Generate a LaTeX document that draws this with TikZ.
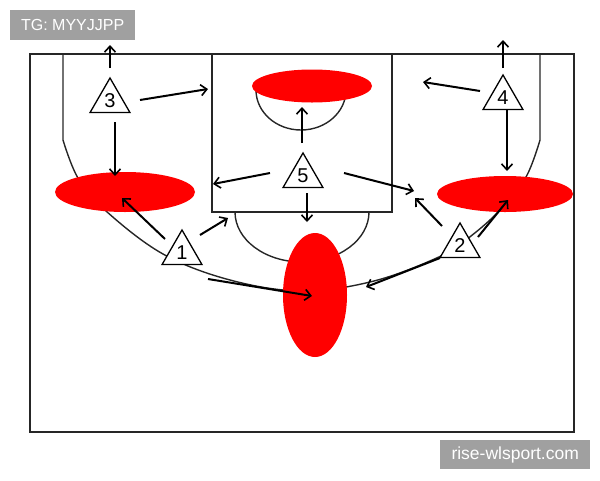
\documentclass[tikz,border=0pt]{standalone}
\usepackage{fontspec}
\setmainfont{Liberation Sans}
\usetikzlibrary{shapes.geometric,arrows.meta}
\definecolor{wmgray}{HTML}{A0A0A0}
\begin{document}
\begin{tikzpicture}[x=1pt,y=-1pt,
  court/.style={line width=1.4pt, black!85},
  mv/.style={line width=2pt, black, -{Straight Barb[length=6pt,width=11pt,line width=1.6pt]}},
  player/.style={regular polygon, regular polygon sides=3, draw, line width=1.3pt, fill=white, minimum size=46pt, inner sep=0pt, font=\fontsize{20}{24}\selectfont},
  spot/.style={ellipse, fill=red, draw=none, inner sep=0pt},
  wm/.style={fill=wmgray, text=white, font=\fontsize{16}{19}\selectfont, inner sep=0pt, anchor=north west}
]
\useasboundingbox (0,0) rectangle (600,480);
% court
\draw[court] (30,54) rectangle (574,432);
\draw[court] (212,54) rectangle (392,212);
\draw[court] (63,54) -- plot[smooth, tension=0.6] coordinates {(63,140) (78,178) (106,211) (163,254) (230,280) (302,291) (374,281) (441,256) (471,236) (500,210) (526,177) (540,140)} -- (540,54);
\draw[court] (256,90) arc[start angle=180, end angle=0, x radius=45, y radius=40];
\draw[court] (235,212) arc[start angle=180, end angle=0, x radius=67, y radius=50];
% spots
\node[spot, minimum width=120pt, minimum height=33pt] (eT) at (312,86) {};
\node[spot, minimum width=140pt, minimum height=40pt] (eL) at (125,192) {};
\node[spot, minimum width=136pt, minimum height=36pt] (eR) at (505,194) {};
\node[spot, minimum width=64pt, minimum height=124pt] (eC) at (315,295) {};
% players
\node[player] (t1) at (182,253) {1};
\node[player] (t2) at (460,246) {2};
\node[player] (t3) at (110,101) {3};
\node[player] (t4) at (503,98) {4};
\node[player] (t5) at (303,176) {5};
% arrow end points
\coordinate (a3u) at (110,68);  \coordinate (b3u) at (110,45);
\coordinate (a3r) at (140,100); \coordinate (b3r) at (208,89);
\coordinate (a3d) at (115,122); \coordinate (b3d) at (115,176);
\coordinate (a4u) at (503,68);  \coordinate (b4u) at (503,40);
\coordinate (a4l) at (480,91);  \coordinate (b4l) at (423,82);
\coordinate (a4d) at (507,110); \coordinate (b4d) at (507,171);
\coordinate (a5u) at (302,143); \coordinate (b5u) at (302,107);
\coordinate (a5l) at (270,173); \coordinate (b5l) at (213,184);
\coordinate (a5r) at (344,173); \coordinate (b5r) at (414,191);
\coordinate (a5d) at (307,193); \coordinate (b5d) at (307,222);
\coordinate (a1l) at (165,239); \coordinate (b1l) at (122,198);
\coordinate (a1r) at (200,235); \coordinate (b1r) at (228,218);
\coordinate (a1c) at (208,279); \coordinate (b1c) at (312,296);
\coordinate (a2l) at (442,226); \coordinate (b2l) at (415,198);
\coordinate (a2r) at (478,237); \coordinate (b2r) at (508,200);
\coordinate (a2c) at (440,258); \coordinate (b2c) at (366,287);
% movements
\foreach \p in {3u,3r,3d,4u,4l,4d,5u,5l,5r,5d,1l,1r,1c,2l,2r,2c}
  \draw[mv] (a\p) -- (b\p);
% watermarks
\node[wm, minimum width=125pt, minimum height=30pt] (wm1) at (10,10) {TG: MYYJJPP};
\node[wm, minimum width=150pt, minimum height=29pt, font=\fontsize{17.5}{20}\selectfont] (wm2) at (440,440) {rise-wlsport.com};
\end{tikzpicture}
\end{document}
